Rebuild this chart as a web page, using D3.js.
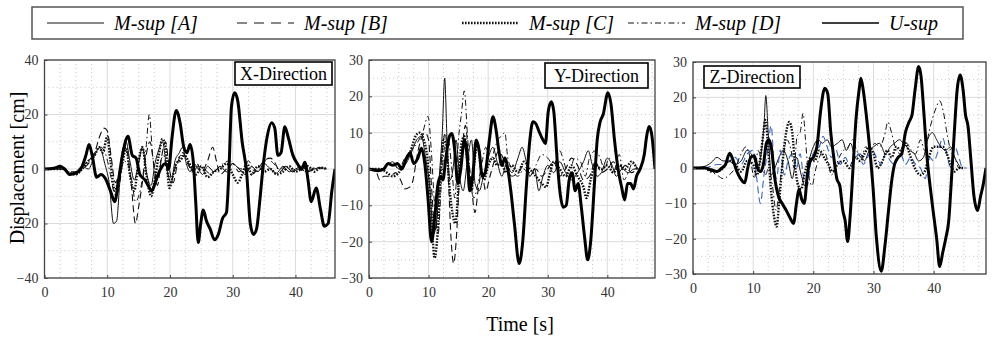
<!DOCTYPE html>
<html>
<head>
<meta charset="utf-8">
<script src="https://cdn.jsdelivr.net/npm/d3@7"></script>
<style>
  body { margin: 0; background: #fff; }
  svg { display: block; }
  text { font-family: "Liberation Serif", "Times New Roman", serif; }
</style>
</head>
<body>
<div id="app"></div>
<script>
// series: [time s, displacement cm]
const legendNames = ["M-sup [A]", "M-sup [B]", "M-sup [C]", "M-sup [D]", "U-sup"];
const xTickValues = [0, 10, 20, 30, 40];

// ---- X direction
const xUsup = [[0,0],[1.5,0.3],[2.5,1],[3.2,0],[4,-2],[5,-1.5],[6,1],[6.6,5],[7.1,9],[7.6,5],[8.3,-3],[9,-2],[9.7,-3.5],[10.5,-8],[11.2,-12],[11.8,-4],[12.5,6],[13.3,12],[14,5],[14.6,4],[15.2,-2],[16,-4],[16.5,-6],[17.1,-8],[17.8,-4],[18.5,0],[19.3,2],[19.8,0],[20.3,11],[21,21.5],[21.6,17],[22.2,8],[22.7,6],[23.2,9],[23.7,3],[24.1,-12],[24.5,-27],[24.9,-20],[25.3,-15],[25.8,-19],[26.4,-22],[27.1,-26],[27.7,-24],[28.4,-18],[29,-16],[29.4,0],[29.8,23],[30.3,28],[30.8,25],[31.5,10],[32.2,-1],[32.8,-20],[33.3,-24],[33.8,-22],[34.3,-12],[34.8,0],[35.5,12],[36.2,17],[36.7,15],[37.2,5],[37.7,6],[38.3,15.5],[38.8,12],[39.6,5],[40.3,2],[41,0],[41.5,2.5],[42,-4],[42.5,-12],[43.3,-7],[44,-15],[44.6,-21],[45.2,-20],[45.8,-8],[46.3,0]];
const xA = [[0,0],[3,0.5],[4,-1.5],[5,-1],[6,1],[7,0],[8,5],[8.8,8],[9.6,2],[10.3,-5],[11,-20],[11.5,-19],[12,-5],[12.5,5],[13,10],[13.6,3],[14.3,-4],[15,2],[15.6,8],[16.3,-2],[17,-6],[17.6,2],[18.2,7],[18.8,10],[19.5,0],[20.2,-5],[20.8,3],[21.5,6],[22,8],[22.6,2],[23.2,-1],[23.8,2],[24.5,0],[25.2,-2],[26,1],[27,-1],[28,1],[29,-1],[30,2],[31,0],[32,-2],[33,1],[34,-1],[35,2],[36,0],[37,-1.5],[38,1],[39,-1],[40,0],[41,1],[42,-1],[43,0],[44,0.5],[45,0]];
const xB = [[0,0],[3,0],[4,-2],[5,-1.5],[6,0],[7,2],[8,6],[8.8,12],[9.5,15],[10,14],[10.6,5],[11.3,-5],[12,0],[12.6,8],[13.2,6],[13.8,-5],[14.5,-20],[15,-14],[15.6,-5],[16.2,5],[16.8,10],[17.4,2],[18,-6],[18.7,5],[19.3,10],[19.9,0],[20.5,-5],[21.2,2],[22,6],[22.8,3],[23.5,-1],[24.3,2],[25,-1],[26,3],[26.8,8],[27.4,3],[28,-2],[29,0],[30,2],[31,-1],[32,1],[33,-2],[34,0],[35,3],[36,4],[36.8,2],[37.5,-1],[38.5,1],[39.5,-1],[40.5,0],[42,-1],[43,0.5],[44,0]];
const xC = [[0,0],[3,0],[4,-1.5],[5,-2],[6,0],[7,3],[8,5],[8.7,8],[9.3,6],[10,12],[10.5,3],[11.2,-8],[11.8,-4],[12.5,3],[13,8],[13.6,-2],[14.3,-8],[15,3],[15.6,8],[16.3,-3],[17,-10],[17.5,-5],[18.2,5],[18.8,11],[19.3,8],[19.9,-7],[20.4,-3],[21,2],[21.6,3],[22.3,5],[22.9,3],[23.5,0],[24.2,-2],[25,1],[26,-3],[27,-1],[28,0],[29,2],[30,-2],[30.8,-5],[31.5,-2],[32.3,2],[33,-2],[34,1],[35,-1],[36,0],[37,-2],[38,-1],[39,1],[40,-1],[41,0],[42,1],[43,-1],[44,0.5],[45,0]];
const xD = [[0,0],[3,0],[4,-1],[5,-1],[6,1],[7,3],[8,6],[9,8],[9.8,5],[10.5,-2],[11,-8],[11.5,-10],[12,-5],[12.6,3],[13.2,2],[13.9,-4],[14.5,-12],[15,-10],[15.7,-2],[16.2,8],[16.7,20],[17.2,6],[17.8,-5],[18.4,2],[19,5],[19.6,-2],[20.3,-3],[21,2],[21.7,5],[22.4,4],[23,1],[23.7,-1],[24.5,1],[25.5,0],[26.5,-2],[27.5,0],[28.5,2],[29.5,3],[30.5,1],[31.5,0],[32.5,3],[33.5,-1],[34.5,0],[35.5,4],[36.5,2],[37.5,0],[38.5,1],[39.5,-1],[40.5,0],[41.5,-1],[42.5,0],[43.5,0.5],[44.5,0]];

// ---- Y direction
const yUsup = [[0,0],[1.5,-0.5],[2.5,0],[3.2,1.5],[4,1],[4.8,1.5],[5.5,0],[6.3,3],[6.9,4.4],[7.5,1.5],[8.2,3],[8.8,5.7],[9.4,1],[9.9,-8],[10.5,-20],[11,-14],[11.5,-5],[12,-2],[12.4,-3],[12.9,3],[13.5,9],[13.9,9.8],[14.4,5],[14.9,-4],[15.4,0],[16,8],[16.5,3],[16.9,-6],[17.4,-2],[18,8],[18.5,5],[19,-2],[19.5,-1],[20.2,8],[20.8,14.4],[21.3,11],[21.8,5],[22.3,1],[22.8,3],[23.3,0],[23.8,-6],[24.4,-15],[25.2,-26],[25.8,-20],[26.4,-5],[27,8],[27.5,13],[28,12.5],[28.5,10.5],[29.2,8],[29.6,7],[30.1,16],[30.6,18.5],[31,16],[31.6,2],[32.1,-7],[32.6,-10.5],[33.1,-10],[33.6,-3],[34.1,-1],[34.6,-6],[35.1,-4],[35.6,-10],[36.2,-19],[36.7,-25],[37.2,-20],[37.8,-5],[38.3,8],[38.8,13],[39.3,15],[40.1,21],[40.6,18],[41.2,8],[41.8,0],[42.4,-5],[42.9,-8.5],[43.4,-4],[43.9,-4],[44.4,-5.5],[44.9,-2],[45.5,0],[46.2,4],[46.6,9],[47,11.7],[47.4,10],[48,0]];
const yA = [[0,0],[2,0],[3,1],[4,2],[5,0],[6,1],[7,4],[8,8],[8.8,9],[9.5,3],[10.2,-5],[10.8,-18],[11.3,-15],[11.8,-2],[12.3,10],[12.7,25],[13.1,8],[13.6,-3],[14.1,0],[14.6,8],[15.2,-2],[15.8,-6],[16.5,2],[17.2,8],[17.8,-4],[18.5,-6],[19.2,-2],[20,3],[20.8,6],[21.5,2],[22.3,-2],[23,1],[24,-1],[25,3],[25.7,6],[26.4,2],[27,-2],[27.8,0],[28.5,-6],[29.2,-2],[30,1],[31,-1],[32,2],[33,-1],[34,-3],[35,-1],[36,2],[36.8,5],[37.5,1],[38.3,-2],[39,-1],[40,3],[40.8,1],[41.5,-2],[42.5,0],[43.5,-1],[44.5,0],[45.5,0]];
const yB = [[0,0],[1,0],[1.8,-3],[2.5,-2],[3.5,-2],[4.5,-1],[5.3,-3],[6,-5.5],[6.8,-5],[7.4,-3],[8,3],[8.7,8],[9.4,10],[10,8],[10.5,-5],[11.1,-17],[11.6,-10],[12.2,3],[12.8,10],[13.3,-2],[13.8,-20],[14.2,-26],[14.7,-18],[15.1,-5],[15.6,5],[16.2,12],[16.7,3],[17.2,-5],[17.8,-12],[18.3,-6],[18.9,-1],[19.6,-6],[20.3,-2],[21,2],[21.8,5],[22.5,3],[23.2,0],[24,-2],[25,-1],[26,1],[27,-1],[28,0],[29,-2],[30,0],[31,2],[32,-2],[33,0],[34,3],[35,1],[36,-3],[37,-2],[38,2],[39,-1],[40,0],[41,2],[42,-1],[43,1],[44,-1],[45,0]];
const yC = [[0,0],[2,0],[3,-1],[4,-2],[5,-1],[6,2],[7,5],[7.8,9],[8.5,10],[9.2,8],[9.8,3],[10.4,-10],[11,-24.5],[11.5,-18],[12,-3],[12.5,8],[13,6],[13.5,-5],[14,-12],[14.5,-15],[15,-5],[15.5,7],[16,9],[16.6,0],[17.2,-6],[17.7,2],[18.2,7],[18.8,0],[19.3,-3],[20,1],[20.8,3],[21.5,1],[22.2,2],[23,-1],[24,1],[25,-1],[26,2],[27,0],[28,-2],[29,-4],[29.7,-5],[30.4,-1],[31,2],[32,0],[33,-2],[34,1],[35,-2],[36,-5],[36.5,-8],[37.2,-3],[38,1],[39,0],[40,1],[41,-1],[42,1],[43,0],[44,2],[45,0]];
const yD = [[0,0],[2,-0.5],[3,1],[4,1.5],[5,0],[6,3],[7,5],[8,7],[9,10],[9.9,14.5],[10.5,4],[11,-10],[11.6,-18],[12.1,-5],[12.7,6],[13.3,8],[13.9,0],[14.4,-8],[15,8],[15.5,15],[16,21.5],[16.5,10],[17,-2],[17.6,-8],[18.3,-4],[19,2],[19.6,6],[20.3,2],[21,5],[21.6,8],[22.2,9],[22.8,10],[23.3,3],[24,0],[25,-2],[26,0],[27,-2],[28,1],[29,4],[30,3],[31,1],[32,5],[32.7,2],[33.5,-2],[34.5,3],[35.5,2],[36.3,-2],[37,3],[38,5],[38.8,3],[39.5,0],[40.3,3],[41,-1],[42,4],[42.8,-3],[43.5,-1],[44.3,2],[45,0]];

// ---- Z direction
const zUsup = [[0,0],[2,0],[3,-0.5],[4,-1],[4.8,0],[5.4,1],[6.1,4.2],[6.7,2],[7.3,-1],[7.9,-3],[8.6,-4.2],[9.1,0],[9.6,3],[10.2,3.5],[10.7,0],[11.2,-1],[11.7,1],[12.2,7],[12.6,8],[13,6],[13.6,-3],[14.2,-8],[14.8,-10],[15.5,-12],[16.1,-14],[16.7,-15.7],[17.2,-10],[17.6,-6],[18.1,-9],[18.5,-10],[19,-2],[19.5,2],[20,3],[20.6,6],[21.2,16],[21.9,22.6],[22.4,21],[22.9,10],[23.4,3],[23.9,-3],[24.4,-5],[24.9,-12],[25.3,-15],[25.7,-20.8],[26.1,-14],[26.6,0],[27.1,14],[27.6,22],[27.9,25.4],[28.3,22],[28.8,15],[29.4,5],[29.9,-5],[30.5,-20],[31.3,-29.2],[31.9,-22],[32.5,-12],[33,-4],[33.5,1],[34.1,3],[34.7,4],[35.3,10],[35.9,13],[36.4,15],[36.9,22],[37.5,28.7],[37.9,26],[38.4,15],[38.9,3],[39.4,-5],[39.9,-12],[40.5,-20],[41,-27.9],[41.5,-24],[42,-20],[42.5,-15],[43,-2],[43.5,12],[43.9,22],[44.4,26.3],[44.9,22],[45.3,15],[45.7,12],[46.2,2],[46.7,-8],[47.3,-12],[47.8,-8],[48.2,-5],[48.7,0]];
const zA = [[0,0],[2,0.5],[3,1.5],[4,3],[5,2],[6,2],[7,1],[8,2],[9,5],[10,3],[10.8,0],[11.4,5],[11.8,12],[12.1,20.5],[12.5,10],[13,-2],[13.6,0],[14.3,3],[15,5],[15.8,2],[16.5,-3],[17.2,3],[18,-2],[18.6,-5],[19.3,2],[20,6],[20.8,8],[21.5,7],[22.3,8],[23,6],[24,7],[24.8,8],[25.5,5],[26.2,7],[27,3],[27.8,4],[28.5,2],[29.3,5],[30,6],[31,7],[32,4],[32.8,6],[33.5,7],[34.3,8],[35,7],[36,5],[36.8,4],[37.5,2],[38.3,3],[39,8],[39.8,10],[40.5,8],[41.2,6],[42,5],[42.8,6],[43.5,3],[44.5,0]];
const zB = [[0,0],[2,0],[3,0.5],[4,1],[5,1],[6,2],[7,3],[8,1],[9,4],[10,5],[10.6,-3],[11.2,-10],[11.8,-2],[12.4,5],[13,12],[13.4,3],[13.9,-3],[14.5,5],[15.2,-2],[15.8,2],[16.5,4],[17.2,0],[17.8,4],[18.4,-3],[19,-5],[19.6,2],[20.3,5],[21,6],[21.6,9],[22.3,6],[23,3],[23.8,5],[24.5,1],[25.3,3],[26,1],[26.8,2],[27.5,4],[28.3,1],[29,3],[29.8,5],[30.5,3],[31.3,1],[32,4],[32.8,2],[33.5,1],[34.5,4],[35.3,1],[36.2,3],[37,1],[37.8,0],[38.6,-3],[39.3,3],[40,2],[40.8,5],[41.5,8.5],[42.2,4],[42.8,0],[43.5,6],[44.2,3],[44.8,0],[45.5,0]];
const zC = [[0,0],[2,0],[3,-1],[4,-1],[5,0],[6,2],[7,1],[8,-1],[9,2],[10,1],[10.6,-2],[11.2,3],[11.7,10],[12,13.6],[12.4,8],[12.9,-5],[13.5,-14],[13.9,-16.6],[14.3,-10],[14.8,0],[15.3,8],[16,13],[16.5,10],[17,0],[17.5,-5],[18,-6],[18.5,-2],[19,1],[19.6,3],[20.2,2],[21,5],[21.8,3],[22.5,1],[23.2,-1],[24,1],[25,2],[26,0],[27,3],[27.8,2],[28.5,4],[29.3,6],[30,4],[30.7,0],[31.5,2],[32.3,5],[33,3],[33.8,6],[34.5,5],[35.3,7],[36,4],[36.6,1],[37.2,-1],[37.8,-2],[38.5,-1],[39.2,3],[40,6],[40.8,6],[41.5,6],[42.2,4],[42.8,1],[43.5,-1],[44.2,0],[45,0]];
const zD = [[0,0],[2,0],[3,-1],[4,-2],[5,-3],[6,-2],[7,0],[8,4],[8.8,6],[9.5,3],[10.2,-3],[10.8,5],[11.4,2],[12,-2],[12.6,0],[13.2,-5],[13.8,-12],[14.4,-5],[15,3],[15.6,8],[16.3,5],[16.8,0],[17.3,9],[17.8,10],[18.3,15.5],[18.7,8],[19.2,-2],[19.8,-5],[20.3,-1],[21,3],[21.7,5],[22.4,2],[23,-2],[23.6,0],[24.3,3],[25,5],[25.8,6],[26.5,8],[27.2,5],[28,3],[28.7,6],[29.5,5],[30.2,7],[31,6],[31.8,9],[32.4,13],[33,10],[33.8,5],[34.5,4],[35.5,7],[36.3,5],[37,4],[37.8,8],[38.5,5],[39.2,10],[39.8,14],[40.4,17],[41,19],[41.6,16],[42.2,10],[42.8,5],[43.5,3],[44.2,0],[45,0]];

const W = 992, H = 339;
const svg = d3.select("#app").append("svg").attr("width", W).attr("height", H);

// line styles, in legend order A, B, C, D, U
const styles = [
  { width: 1, dash: null, color: "#111" },
  { width: 1.1, dash: "7,4", color: "#111" },
  { width: 2.4, dash: "1.6,1.4", color: "#111" },
  { width: 1, dash: "6,3,1.5,3", color: "#111" },
  { width: 3, dash: null, color: "#000" },
];

const panels = [
  { id: "x", label: "X-Direction", left: 44.5, right: 335, top: 60, bottom: 278, xMax: 46.3,
    yDom: [-40, 40], yTicks: [-40, -20, 0, 20, 40], yMinor: 10,
    box: { x: 235, y: 62, w: 97, h: 23 }, series: [xA, xB, xC, xD, xUsup], colors: {} },
  { id: "y", label: "Y-Direction", left: 369, right: 655, top: 60, bottom: 278, xMax: 48,
    yDom: [-30, 30], yTicks: [-30, -20, -10, 0, 10, 20, 30], yMinor: 5,
    box: { x: 545, y: 63, w: 103, h: 25 }, series: [yA, yB, yC, yD, yUsup], colors: {} },
  { id: "z", label: "Z-Direction", left: 693, right: 986, top: 62, bottom: 274, xMax: 48.7,
    yDom: [-30, 30], yTicks: [-30, -20, -10, 0, 10, 20, 30], yMinor: 5,
    box: { x: 704, y: 66, w: 96, h: 22 }, series: [zA, zB, zC, zD, zUsup], colors: { 1: "#3566c4" } },
];

panels.forEach((p) => {
  const x = d3.scaleLinear().domain([0, p.xMax]).range([p.left, p.right]);
  const y = d3.scaleLinear().domain(p.yDom).range([p.bottom, p.top]);
  const g = svg.append("g").attr("id", "panel-" + p.id);

  g.append("clipPath").attr("id", "clip-" + p.id)
    .append("rect").attr("x", p.left).attr("y", p.top)
    .attr("width", p.right - p.left).attr("height", p.bottom - p.top);

  // minor grid
  const xMinor = d3.range(0, p.xMax, 2.5).filter((v) => v % 10 !== 0);
  const yMinor = d3.range(p.yDom[0], p.yDom[1], p.yMinor).filter((v) => !p.yTicks.includes(v));
  g.selectAll(".mx").data(xMinor).join("line")
    .attr("x1", x).attr("x2", x).attr("y1", p.top).attr("y2", p.bottom)
    .attr("stroke", "#bbb").attr("stroke-width", 0.8).attr("stroke-dasharray", "1,3");
  g.selectAll(".my").data(yMinor).join("line")
    .attr("x1", p.left).attr("x2", p.right).attr("y1", y).attr("y2", y)
    .attr("stroke", "#bbb").attr("stroke-width", 0.8).attr("stroke-dasharray", "1,3");

  // major grid
  g.append("g").selectAll("line").data(xTickValues).join("line")
    .attr("x1", x).attr("x2", x).attr("y1", p.top).attr("y2", p.bottom)
    .attr("stroke", "#dcdcdc").attr("stroke-width", 1);
  g.append("g").selectAll("line").data(p.yTicks).join("line")
    .attr("x1", p.left).attr("x2", p.right).attr("y1", y).attr("y2", y)
    .attr("stroke", "#dcdcdc").attr("stroke-width", 1);

  // curves
  const line = d3.line().x((d) => x(d[0])).y((d) => y(d[1])).curve(d3.curveMonotoneX);
  const lines = g.append("g").attr("clip-path", `url(#clip-${p.id})`);
  p.series.forEach((s, i) => {
    const st = styles[i];
    lines.append("path").datum(s).attr("d", line)
      .attr("fill", "none")
      .attr("stroke", p.colors[i] || st.color)
      .attr("stroke-width", st.width)
      .attr("stroke-dasharray", st.dash)
      .attr("stroke-linejoin", "round");
  });

  // axes
  const ax = g.append("g").attr("transform", `translate(0,${p.bottom})`)
    .call(d3.axisBottom(x).tickValues(xTickValues).tickSize(-3).tickPadding(9));
  const ay = g.append("g").attr("transform", `translate(${p.left},0)`)
    .call(d3.axisLeft(y).tickValues(p.yTicks).tickSize(-3).tickPadding(6));
  [ax, ay].forEach((a) => {
    a.select(".domain").remove();
    a.selectAll(".tick line").attr("stroke", "#444");
    a.selectAll(".tick text").attr("fill", "#333")
      .style("font-size", "14px").style("font-family", "'Liberation Serif', serif");
  });

  // box
  g.append("rect").attr("x", p.left).attr("y", p.top)
    .attr("width", p.right - p.left).attr("height", p.bottom - p.top)
    .attr("fill", "none").attr("stroke", "#444").attr("stroke-width", 1.3);

  // direction label
  g.append("rect").attr("x", p.box.x).attr("y", p.box.y)
    .attr("width", p.box.w).attr("height", p.box.h)
    .attr("fill", "#fff").attr("stroke", "#000").attr("stroke-width", 1.6);
  g.append("text").attr("x", p.box.x + p.box.w / 2).attr("y", p.box.y + p.box.h / 2 + 6)
    .attr("text-anchor", "middle").style("font-size", "18px").text(p.label);
});

// axis titles
svg.append("text")
  .attr("transform", "translate(24,168) rotate(-90)")
  .attr("text-anchor", "middle").style("font-size", "20px")
  .text("Displacement [cm]");
svg.append("text").attr("x", 520).attr("y", 331)
  .attr("text-anchor", "middle").style("font-size", "20px").text("Time [s]");

// legend
const legend = svg.append("g").attr("id", "legend");
legend.append("rect").attr("x", 32).attr("y", 7).attr("width", 931).attr("height", 32)
  .attr("fill", "#fff").attr("stroke", "#555").attr("stroke-width", 1.5);
const legendX = [47, 237, 462, 628, 822];
legendNames.forEach((name, i) => {
  const st = styles[i];
  legend.append("line").attr("x1", legendX[i]).attr("x2", legendX[i] + 57)
    .attr("y1", 23).attr("y2", 23)
    .attr("stroke", st.color).attr("stroke-width", i === 4 ? 1.5 : st.width)
    .attr("stroke-dasharray", i === 1 ? "10,7" : st.dash);
  legend.append("text").attr("x", legendX[i] + 67).attr("y", 30)
    .style("font-size", "20px").style("font-style", "italic").text(name);
});
</script>
</body>
</html>
